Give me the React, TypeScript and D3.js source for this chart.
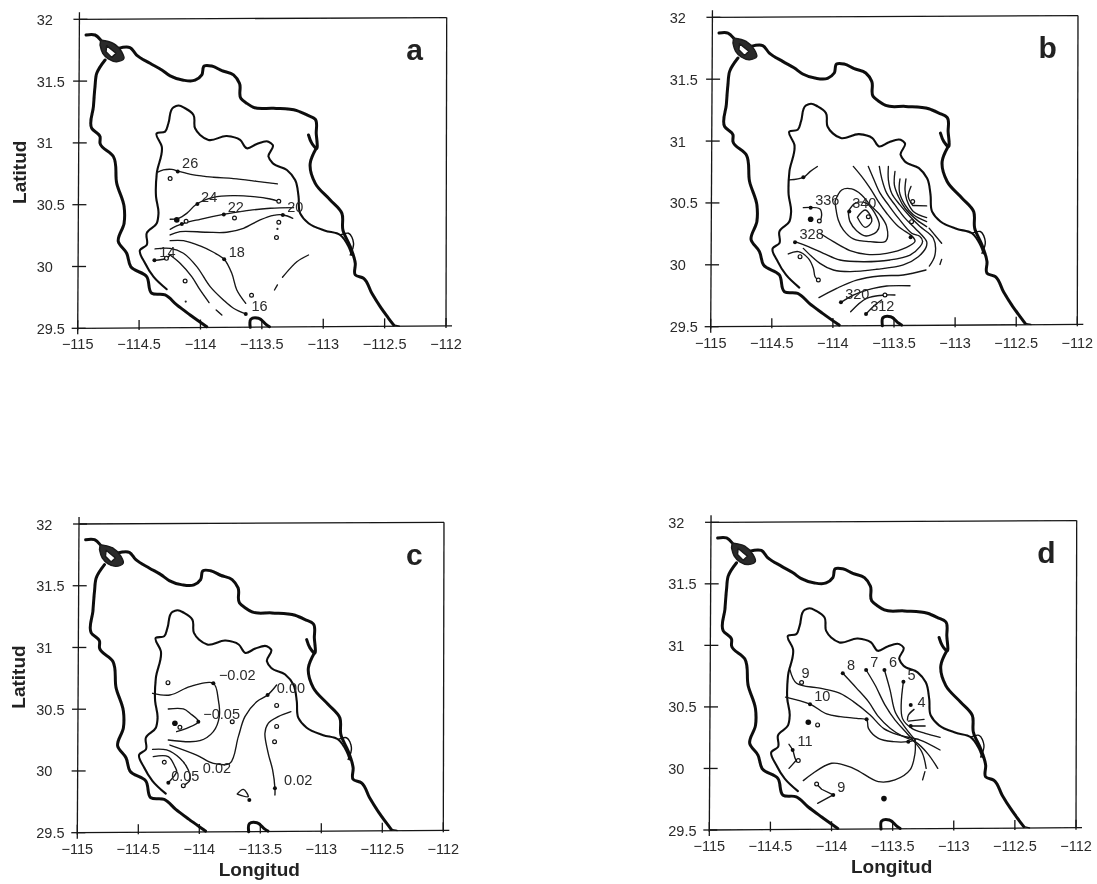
import React from "react";
import * as d3 from "d3";

type P = [number, number];

const xTicks = [-115, -114.5, -114, -113.5, -113, -112.5, -112];
const yTicks = [29.5, 30, 30.5, 31, 31.5, 32];

const outerWest: P[] = [[-114.777,31.671],[-114.845,31.563],[-114.859,31.455],[-114.872,31.294],[-114.886,31.118],[-114.818,31.051],[-114.818,30.997],[-114.709,30.889],[-114.682,30.673],[-114.622,30.484],[-114.622,30.35],[-114.669,30.201],[-114.601,30.107],[-114.568,29.999],[-114.438,29.918],[-114.397,29.783],[-114.288,29.77],[-114.193,29.689],[-114.084,29.608],[-113.949,29.513]];
const outerHead: P[] = [[-114.932,31.873],[-114.859,31.873],[-114.813,31.833]];
const outerNorth: P[] = [[-114.669,31.765],[-114.574,31.771],[-114.52,31.711],[-114.411,31.644],[-114.315,31.59],[-114.247,31.542],[-114.139,31.507],[-114.044,31.507],[-113.989,31.55],[-113.97,31.622],[-113.908,31.622],[-113.826,31.585],[-113.731,31.55],[-113.682,31.482],[-113.671,31.361],[-113.622,31.32],[-113.568,31.288],[-113.405,31.28],[-113.215,31.261],[-113.133,31.226],[-113.065,31.191],[-113.057,31.078],[-113.057,30.956],[-113.093,30.997],[-113.12,31.064]];
const outerEast: P[] = [[-113.057,30.956],[-113.106,30.835],[-113.065,30.673],[-112.943,30.538],[-112.848,30.43],[-112.84,30.296],[-112.78,30.161],[-112.739,30.026],[-112.739,29.932],[-112.672,29.905],[-112.604,29.783],[-112.536,29.675],[-112.468,29.581],[-112.427,29.527]];
const outerTail: P[] = [[-112.427,29.527],[-112.38,29.518]];
const lagoonOuter: P[] = [[-114.813,31.833],[-114.71,31.806],[-114.642,31.738],[-114.623,31.684],[-114.682,31.657],[-114.75,31.679],[-114.796,31.725],[-114.818,31.792]];
const lagoonInner: P[] = [[-114.764,31.787],[-114.688,31.725],[-114.723,31.692],[-114.769,31.738]];
const islet: P[] = [[-113.595,29.508],[-113.59,29.573],[-113.527,29.581],[-113.46,29.527],[-113.438,29.513]];
const innerCoast: P[] = [[-114.275,29.816],[-114.383,29.918],[-114.451,30.026],[-114.492,30.134],[-114.438,30.174],[-114.438,30.269],[-114.356,30.35],[-114.342,30.43],[-114.362,30.565],[-114.356,30.754],[-114.315,30.97],[-114.356,31.078],[-114.288,31.091],[-114.261,31.159],[-114.22,31.288],[-114.179,31.302],[-114.125,31.28],[-114.057,31.226],[-114.044,31.118],[-114.003,31.064],[-113.935,31.024],[-113.786,31.056],[-113.677,31.024],[-113.622,30.956],[-113.541,30.991],[-113.446,31.01],[-113.411,30.983],[-113.446,30.889],[-113.411,30.835],[-113.296,30.781],[-113.229,30.7],[-113.201,30.565],[-113.188,30.43],[-113.12,30.35],[-112.984,30.29],[-112.862,30.255],[-112.794,30.161],[-112.767,30.093]];
const innerLoop: P[] = [[-112.862,30.255],[-112.794,30.269],[-112.753,30.188],[-112.78,30.093]];

// Panel a: temperature isolines
const a26: P[] = [[-114.356,30.759],[-114.302,30.781],[-114.234,30.786],[-114.179,30.77],[-114.057,30.741],[-113.894,30.722],[-113.731,30.711],[-113.541,30.689],[-113.373,30.668]];
const a24: P[] = [[-114.247,30.382],[-114.179,30.39],[-114.112,30.43],[-114.03,30.506],[-113.894,30.56],[-113.731,30.573],[-113.568,30.565],[-113.432,30.546],[-113.356,30.525]];
const a22: P[] = [[-114.247,30.301],[-114.152,30.344],[-114.003,30.382],[-113.813,30.422],[-113.622,30.452],[-113.432,30.471],[-113.242,30.476]];
const a20: P[] = [[-114.247,30.255],[-114.166,30.282],[-113.949,30.277],[-113.786,30.277],[-113.65,30.309],[-113.514,30.377],[-113.405,30.414],[-113.324,30.417],[-113.248,30.39]];
const a18: P[] = [[-114.247,30.209],[-114.139,30.209],[-114.003,30.166],[-113.894,30.115],[-113.807,30.058],[-113.745,29.945],[-113.704,29.81],[-113.631,29.702]];
const a16: P[] = [[-114.37,30.142],[-114.247,30.147],[-114.139,30.107],[-114.03,29.999],[-113.921,29.837],[-113.813,29.729],[-113.731,29.662],[-113.631,29.616]];
const a14: P[] = [[-114.247,30.093],[-114.166,30.026],[-114.071,29.918],[-114.003,29.81],[-113.93,29.708]];
const a14b: P[] = [[-113.872,29.648],[-113.826,29.608]];
const a14c: P[] = [[-114.375,30.05],[-114.277,30.066],[-114.247,30.093]];
const aDashA: P[] = [[-113.12,30.093],[-113.215,30.039],[-113.269,29.985],[-113.332,29.913]];
const aDashB: P[] = [[-113.373,29.851],[-113.397,29.81]];
const aLines = [a26, a24, a22, a20, a18, a16, a14, a14b, a14c, aDashA, aDashB];
const aOpen: P[] = [[-114.247,30.711],[-113.362,30.528],[-113.723,30.393],[-114.117,30.366],[-113.362,30.358],[-113.381,30.234],[-114.277,30.066],[-114.125,29.883],[-113.584,29.767]];
const aDots: P[] = [[-114.185,30.768],[-114.025,30.506],[-113.81,30.42],[-113.329,30.417],[-114.152,30.344],[-113.807,30.058],[-114.375,30.05],[-113.631,29.616]];
const aBig: P[] = [[-114.193,30.377]];
const aTiny: P[] = [[-113.373,30.304],[-114.12,29.716]];
const aLabels: string[] = ["26","24","22","20","18","16","14"];
const aLabelAt: P[] = [[-114.084,30.835],[-113.929,30.565],[-113.712,30.484],[-113.228,30.484],[-113.704,30.12],[-113.519,29.683],[-114.269,30.115]];

// Panel b
const bNorth: P[] = [[-114.356,30.686],[-114.242,30.707],[-114.187,30.753],[-114.127,30.794]];
const bDiamond: P[] = [[-113.8,30.384],[-113.737,30.443],[-113.696,30.403],[-113.683,30.349],[-113.737,30.303],[-113.8,30.384]];
const bLoop2: P[] = [[-113.874,30.43],[-113.819,30.497],[-113.724,30.497],[-113.656,30.416],[-113.62,30.322],[-113.642,30.268],[-113.729,30.233],[-113.806,30.276],[-113.86,30.349],[-113.874,30.43]];
const bLoop3: P[] = [[-113.983,30.511],[-113.928,30.605],[-113.846,30.613],[-113.765,30.565],[-113.696,30.484],[-113.615,30.403],[-113.56,30.309],[-113.566,30.193],[-113.696,30.187],[-113.833,30.209],[-113.915,30.282],[-113.956,30.362],[-113.983,30.511]];
const bA1: P[] = [[-114.106,30.255],[-113.996,30.187],[-113.86,30.115],[-113.724,30.085],[-113.56,30.093],[-113.397,30.141],[-113.328,30.19],[-113.345,30.225],[-113.464,30.309],[-113.56,30.417],[-113.628,30.511],[-113.696,30.619],[-113.765,30.714],[-113.833,30.795]];
const bA2: P[] = [[-114.31,30.187],[-114.201,30.147],[-114.078,30.093],[-113.942,30.039],[-113.751,30.025],[-113.533,30.039],[-113.369,30.079],[-113.287,30.147],[-113.266,30.19],[-113.29,30.23],[-113.355,30.255],[-113.464,30.377],[-113.546,30.484],[-113.614,30.579],[-113.669,30.7],[-113.71,30.795]];
const bA3: P[] = [[-114.242,30.133],[-114.106,30.012],[-113.996,29.958],[-113.86,29.945],[-113.642,29.964],[-113.424,29.999],[-113.301,30.066],[-113.238,30.141],[-113.233,30.188],[-113.328,30.296],[-113.41,30.377],[-113.492,30.484],[-113.56,30.579],[-113.601,30.7],[-113.62,30.795]];
const bA4: P[] = [[-113.211,29.99],[-113.165,30.079],[-113.178,30.215],[-113.287,30.309],[-113.369,30.39],[-113.451,30.484],[-113.519,30.579],[-113.546,30.687],[-113.546,30.795]];
const bF1: P[] = [[-113.492,30.754],[-113.497,30.646],[-113.464,30.552],[-113.41,30.457],[-113.314,30.363],[-113.233,30.309]];
const bF2: P[] = [[-113.451,30.695],[-113.456,30.592],[-113.41,30.484],[-113.342,30.404],[-113.233,30.35]];
const bF3: P[] = [[-113.402,30.695],[-113.41,30.606],[-113.396,30.525],[-113.342,30.431],[-113.233,30.382]];
const bF4: P[] = [[-113.361,30.633],[-113.383,30.552],[-113.35,30.484]];
const bF5: P[] = [[-113.347,30.479],[-113.233,30.476]];
const bDashA: P[] = [[-113.213,30.296],[-113.11,30.174]];
const bDashB: P[] = [[-113.124,30.003],[-113.11,30.044]];
const bA5: P[] = [[-114.114,29.735],[-113.969,29.81],[-113.806,29.877],[-113.615,29.91],[-113.424,29.918],[-113.238,29.958]];
const bA6: P[] = [[-113.934,29.697],[-113.833,29.756],[-113.669,29.81],[-113.56,29.829],[-113.369,29.831]];
const bA7: P[] = [[-113.855,29.621],[-113.724,29.729],[-113.574,29.756],[-113.492,29.756]];
const bA8: P[] = [[-113.729,29.602],[-113.656,29.675],[-113.601,29.716]];
const bWest: P[] = [[-114.365,30.088],[-114.283,30.107],[-114.201,30.052],[-114.16,29.972],[-114.146,29.904],[-114.119,29.877]];
const bSmall: P[] = [[-114.242,30.462],[-114.106,30.451],[-114.092,30.403],[-114.106,30.349]];
const bLines = [bNorth, bDiamond, bLoop2, bLoop3, bA1, bA2, bA3, bA4, bF1, bF2, bF3, bF4, bF5, bDashA, bDashB, bA5, bA6, bA7, bA8, bWest, bSmall];
const bOpen: P[] = [[-113.347,30.511],[-113.71,30.389],[-114.111,30.354],[-113.356,30.349],[-114.269,30.066],[-114.119,29.877],[-113.574,29.756]];
const bDots: P[] = [[-114.242,30.707],[-114.182,30.462],[-113.866,30.43],[-114.31,30.182],[-113.364,30.222],[-113.934,29.697],[-113.729,29.602]];
const bBig: P[] = [[-114.182,30.368]];
const bTiny: P[] = [];
const bLabels: string[] = ["336","340","328","320","312"];
const bLabelAt: P[] = [[-114.046,30.524],[-113.743,30.497],[-114.174,30.247],[-113.8,29.764],[-113.596,29.667]];

// Panel c
const c1: P[] = [[-114.383,30.629],[-114.241,30.615],[-114.077,30.683],[-113.885,30.71],[-113.844,30.575],[-113.836,30.44],[-113.885,30.318],[-113.995,30.245],[-114.254,30.251]];
const c2: P[] = [[-114.254,30.502],[-114.131,30.502],[-114.077,30.467],[-114.008,30.399],[-114.104,30.345],[-114.186,30.318]];
const c3: P[] = [[-113.366,30.696],[-113.44,30.615],[-113.53,30.561],[-113.626,30.44],[-113.68,30.278],[-113.749,30.062],[-113.885,30.062],[-114.022,30.129],[-114.241,30.21]];
const c4: P[] = [[-113.249,30.48],[-113.353,30.44],[-113.435,30.386],[-113.462,30.305],[-113.435,30.143],[-113.399,30.008],[-113.38,29.859],[-113.38,29.805]];
const c5: P[] = [[-114.383,30.175],[-114.268,30.17],[-114.159,30.102],[-114.09,30.008],[-114.077,29.927],[-114.131,29.881]];
const c6: P[] = [[-114.377,30.116],[-114.254,30.116],[-114.2,30.035],[-114.186,29.994],[-114.254,29.905]];
const c7: P[] = [[-113.689,29.813],[-113.639,29.851],[-113.599,29.792],[-113.689,29.813]];
const cLines = [c1, c2, c3, c4, c5, c6, c7];
const cOpen: P[] = [[-114.257,30.715],[-113.366,30.531],[-113.73,30.399],[-114.159,30.353],[-113.366,30.361],[-113.383,30.237],[-114.287,30.07],[-114.131,29.881]];
const cDots: P[] = [[-113.885,30.71],[-114.008,30.399],[-113.44,30.615],[-113.38,29.859],[-113.59,29.765],[-114.254,29.905]];
const cBig: P[] = [[-114.2,30.386]];
const cTiny: P[] = [];
const cLabels: string[] = ["\u22120.02","0.00","\u22120.05","0.02","0.05","0.02"];
const cLabelAt: P[] = [[-113.689,30.777],[-113.249,30.675],[-113.817,30.461],[-113.855,30.021],[-114.115,29.96],[-113.189,29.927]];

// Panel d
const dL1: P[] = [[-114.34,30.801],[-114.286,30.692],[-114.095,30.652],[-113.93,30.61],[-113.821,30.543],[-113.684,30.434],[-113.575,30.326],[-113.453,30.272],[-113.275,30.231],[-113.112,30.15]];
const dL2: P[] = [[-114.376,30.579],[-114.176,30.522],[-114.04,30.443],[-113.93,30.421],[-113.794,30.407],[-113.712,30.394],[-113.698,30.326],[-113.616,30.245],[-113.494,30.218],[-113.371,30.218],[-113.316,30.231]];
const dL3: P[] = [[-114.231,29.901],[-113.999,30.042],[-113.822,30.001],[-113.617,29.893],[-113.481,29.907],[-113.358,29.988],[-113.317,30.123],[-113.316,30.231]];
const dF8: P[] = [[-113.908,30.773],[-113.794,30.651],[-113.698,30.543],[-113.616,30.421],[-113.521,30.326],[-113.425,30.264],[-113.316,30.218],[-113.215,30.123],[-113.131,30.001]];
const dF7: P[] = [[-113.717,30.8],[-113.644,30.678],[-113.562,30.515],[-113.48,30.393],[-113.371,30.272],[-113.262,30.136],[-113.226,30.001]];
const dF6: P[] = [[-113.567,30.8],[-113.521,30.637],[-113.48,30.461],[-113.412,30.353],[-113.316,30.231]];
const dF6b: P[] = [[-113.236,29.974],[-113.255,29.907]];
const dF5: P[] = [[-113.412,30.705],[-113.42,30.407],[-113.343,30.326],[-113.234,30.285],[-113.112,30.253]];
const dF4: P[] = [[-113.325,30.48],[-113.371,30.434],[-113.379,30.394]];
const dH1: P[] = [[-113.371,30.385],[-113.243,30.399]];
const dH2: P[] = [[-113.352,30.345],[-113.234,30.345]];
const dW1: P[] = [[-114.348,30.196],[-114.318,30.15],[-114.291,30.069],[-114.272,30.064]];
const dW2: P[] = [[-114.348,30.001],[-114.286,30.069]];
const dS: P[] = [[-114.122,29.874],[-114.081,29.831],[-113.986,29.785],[-114.114,29.717]];
const dLines = [dL1, dL2, dL3, dF8, dF7, dF6, dF6b, dF5, dF4, dH1, dH2, dW1, dW2];
const dLinear = [dS];
const dOpen: P[] = [[-114.245,30.698],[-114.114,30.354],[-114.272,30.064],[-114.122,29.874]];
const dDots: P[] = [[-113.908,30.773],[-113.717,30.8],[-113.567,30.8],[-113.412,30.705],[-113.352,30.515],[-114.176,30.522],[-113.713,30.4],[-113.986,29.785],[-113.372,30.218],[-114.318,30.15],[-113.352,30.345]];
const dBig: P[] = [[-114.19,30.375],[-113.571,29.755]];
const dTiny: P[] = [];
const dLabels: string[] = ["9","8","7","6","5","4","10","11","9"];
const dLabelAt: P[] = [[-114.212,30.774],[-113.841,30.841],[-113.65,30.869],[-113.497,30.863],[-113.345,30.76],[-113.263,30.543],[-114.076,30.592],[-114.217,30.224],[-113.92,29.852]];

const FONT = "'Liberation Sans', Arial, Helvetica, sans-serif";
const INK = "#141414";
const TXT = "#2a2a2a";

const smooth = d3.curveCatmullRom.alpha(0.5);
const coastCurve = d3.curveCatmullRom.alpha(1);

function tickLabel(v: number) {
  return (v < 0 ? "\u2212" : "") + String(Math.abs(v));
}

type PanelProps = {
  letter: string; px: [number, number]; py: [number, number];
  lines: P[][]; straight?: P[][]; open: P[]; dots: P[]; big: P[]; tiny: P[];
  labels: string[]; labelAt: P[]; showLat?: boolean; showLon?: boolean;
};

function Panel(p: PanelProps) {
  const x = d3.scaleLinear().domain([-115, -112]).range(p.px);
  const y = d3.scaleLinear().domain([29.5, 32]).range(p.py);
  const path = d3.line<P>().x(d => x(d[0])).y(d => y(d[1])).curve(smooth);
  const coast = d3.line<P>().x(d => x(d[0])).y(d => y(d[1])).curve(coastCurve);
  const poly = d3.line<P>().x(d => x(d[0])).y(d => y(d[1])).curve(d3.curveLinear);
  // the scanned page is very slightly out of square
  const skewX = (lat: number) => (lat - 29.5) * 0.7;
  const skewY = (lon: number) => (lon + 115) * 0.78;
  const L = x(-115), R = x(-112), B = y(29.5), T = y(32);
  return (
    <g>
      <g stroke={INK} strokeWidth={1.3} fill="none">
        <line x1={L} y1={B + 6} x2={L + skewX(32)} y2={T - 7} />
        <line x1={L} y1={B} x2={R + 6} y2={B - skewY(-112)} />
        <line x1={L + skewX(32)} y1={T} x2={R + 0.7} y2={T - 1.7} />
        <line x1={R + 0.7} y1={T - 1.7} x2={R} y2={B - skewY(-112)} />
        {xTicks.map(v => (
          <line key={v} x1={x(v)} x2={x(v)} y1={B - skewY(v) - 8} y2={B - skewY(v) + 2} />
        ))}
        {yTicks.map(v => (
          <line key={v} x1={L + skewX(v) - 6} x2={L + skewX(v) + 8} y1={y(v)} y2={y(v)} />
        ))}
      </g>
      <g fontFamily={FONT} fontSize={14.5} fill={TXT}>
        {xTicks.map(v => (
          <text key={v} x={x(v)} y={B + 21} textAnchor="middle">{tickLabel(v)}</text>
        ))}
        {yTicks.map(v => (
          <text key={v} x={L - 41} y={y(v) + 5.5}>{String(v)}</text>
        ))}
      </g>
      <g fill="none" stroke="#0c0c0c" strokeLinejoin="round" strokeLinecap="round">
        <g strokeWidth={3}>
          <path d={coast(outerHead) ?? ""} />
          <path d={coast(outerNorth) ?? ""} />
          <path d={coast(outerEast) ?? ""} />
          <path d={coast(outerWest) ?? ""} />
          <path d={coast(islet) ?? ""} />
        </g>
        <path d={poly(outerTail) ?? ""} strokeWidth={1.3} />
        <path
          d={(coast(lagoonOuter) ?? "") + "Z" + (poly(lagoonInner) ?? "") + "Z"}
          fill="#2a2a2a" fillRule="evenodd" stroke="#1a1a1a" strokeWidth={1.4}
        />
        <g strokeWidth={2.1}>
          <path d={coast(innerCoast) ?? ""} />
          <path d={coast(innerLoop) ?? ""} strokeWidth={1.4} />
        </g>
        <g strokeWidth={1.35} stroke={INK}>
          {p.lines.map((l, i) => <path key={i} d={path(l) ?? ""} />)}
          {(p.straight ?? []).map((l, i) => <path key={i} d={poly(l) ?? ""} />)}
        </g>
      </g>
      {p.open.map((d, i) => (
        <circle key={i} cx={x(d[0])} cy={y(d[1])} r={1.9} fill="#fff" stroke="#111" strokeWidth={1.2} />
      ))}
      {p.dots.map((d, i) => <circle key={i} cx={x(d[0])} cy={y(d[1])} r={2} fill="#111" />)}
      {p.big.map((d, i) => <circle key={i} cx={x(d[0])} cy={y(d[1])} r={2.8} fill="#111" />)}
      {p.tiny.map((d, i) => <circle key={i} cx={x(d[0])} cy={y(d[1])} r={1.1} fill="#222" />)}
      <g fontFamily={FONT} fontSize={14.5} fill={TXT} textAnchor="middle">
        {p.labels.map((t, i) => (
          <text key={i} x={x(p.labelAt[i][0])} y={y(p.labelAt[i][1]) + 5}>{t}</text>
        ))}
      </g>
      <text x={L + 337} y={T + 41} fontFamily={FONT} fontWeight={700} fontSize={30} fill="#222" textAnchor="middle">{p.letter}</text>
      {p.showLat && (
        <text transform={`translate(${L - 52},${T + 153}) rotate(-90)`} fontFamily={FONT} fontWeight={700} fontSize={19} fill="#222" textAnchor="middle">Latitud</text>
      )}
      {p.showLon && (
        <text x={(L + R) / 2 - 1} y={B + 43} fontFamily={FONT} fontWeight={700} fontSize={19} fill="#222" textAnchor="middle">Longitud</text>
      )}
    </g>
  );
}

export default function App() {
  return (
    <svg width={1097} height={884} viewBox="0 0 1097 884" style={{ position: "absolute", left: 0, top: 0, background: "#fff" }}>
      <defs>
        <filter id="scan" x="0" y="0" width="100%" height="100%">
          <feGaussianBlur stdDeviation={0.4} />
        </filter>
      </defs>
      <g filter="url(#scan)">
        <Panel letter="a" px={[77.7, 446]} py={[328.3, 19.3]} lines={aLines} open={aOpen} dots={aDots} big={aBig} tiny={aTiny} labels={aLabels} labelAt={aLabelAt} showLat />
        <Panel letter="b" px={[710.7, 1077.3]} py={[326.7, 17.3]} lines={bLines} open={bOpen} dots={bDots} big={bBig} tiny={bTiny} labels={bLabels} labelAt={bLabelAt} />
        <Panel letter="c" px={[77.3, 443.3]} py={[832.7, 524]} lines={cLines} open={cOpen} dots={cDots} big={cBig} tiny={cTiny} labels={cLabels} labelAt={cLabelAt} showLat showLon />
        <Panel letter="d" px={[709.3, 1076]} py={[830, 522.3]} lines={dLines} straight={dLinear} open={dOpen} dots={dDots} big={dBig} tiny={dTiny} labels={dLabels} labelAt={dLabelAt} showLon />
      </g>
    </svg>
  );
}
